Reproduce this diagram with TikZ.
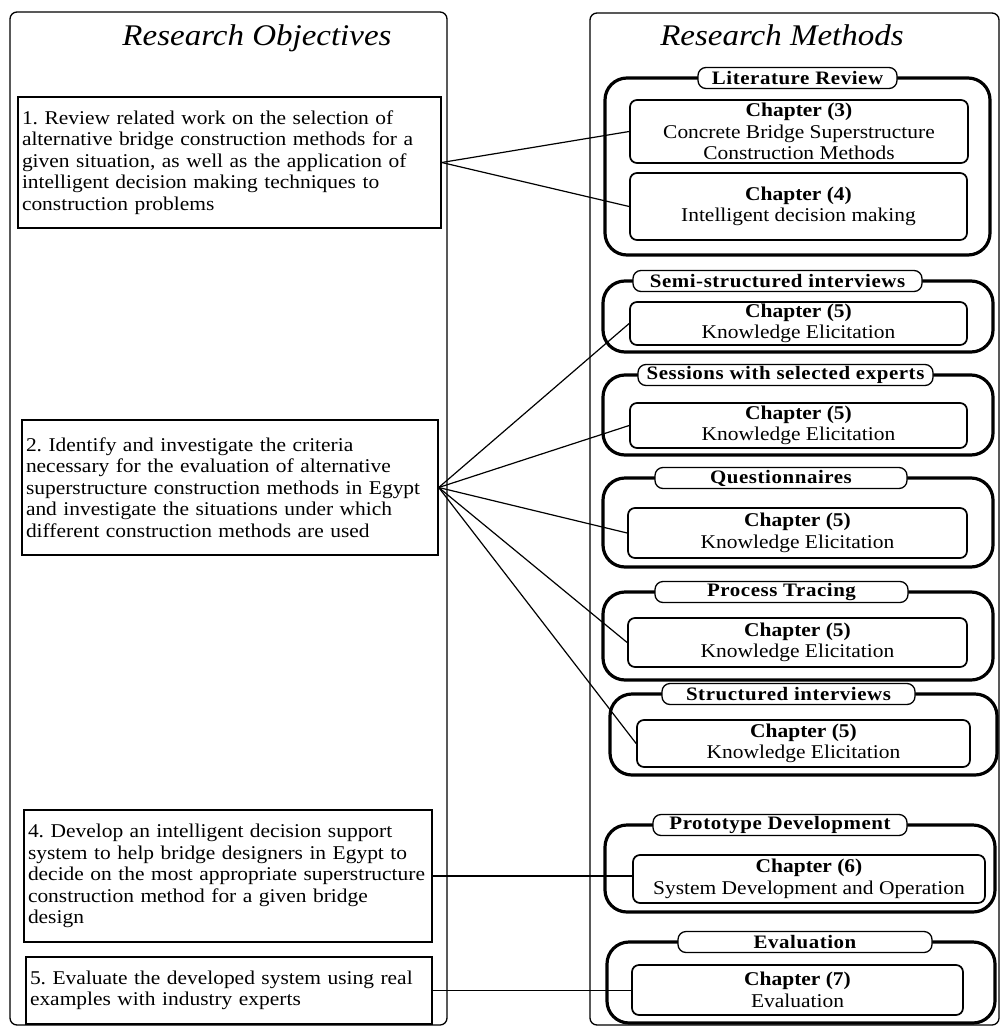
\documentclass[tikz,border=0pt]{standalone}
\usepackage{fontspec}
\setmainfont{Liberation Serif}[FakeStretch=1.1]
\newfontfamily\lblfont{Liberation Serif}[FakeStretch=1.1,LetterSpace=3]
\frenchspacing
\begin{document}
\begin{tikzpicture}[x=1pt,y=-1pt,
  sz/.style 2 args={minimum width=#1pt, minimum height=#2pt},
  panel/.style={draw, line width=1.3pt, rounded corners=7pt, inner sep=0pt},
  ttl/.style={font=\itshape\fontsize{30}{32}\selectfont, inner sep=0pt, anchor=base},
  obj/.style={draw, line width=1.4pt, align=left, inner sep=4pt, font=\fontsize{19.5}{21.5}\selectfont},
  grp/.style={draw, line width=3.2pt, rounded corners=22pt, inner sep=0pt},
  lbl/.style={draw, fill=white, line width=1.3pt, rounded corners=8pt, inner sep=0pt, font=\lblfont\bfseries\fontsize{19}{20}\selectfont},
  chap/.style={draw, fill=white, line width=1.7pt, rounded corners=7pt, inner sep=0pt, align=center, font=\fontsize{19.5}{21.5}\selectfont},
  conn/.style={line width=1.2pt}]
\useasboundingbox (0,0) rectangle (1002,1028);
% panels
\node[panel, sz={437}{1013}] (lp) at (228.5,518.5) {};
\node[panel, sz={409}{1012}] (rp) at (794.5,519) {};
\node[ttl] (t1) at (257,45) {Research Objectives};
\node[ttl] (t2) at (782,45) {Research Methods};
% objectives
\node[obj, sz={423}{131}, text width=415pt] (o1) at (229.5,162.5) {1. Review related work on the selection of\\alternative bridge construction methods for a\\given situation, as well as the application of\\intelligent decision making techniques to\\construction problems};
\node[obj, sz={416}{135}, text width=408pt] (o2) at (230,487.5) {2. Identify and investigate the criteria\\necessary for the evaluation of alternative\\superstructure construction methods in Egypt\\and investigate the situations under which\\different construction methods are used};
\node[obj, sz={408}{132}, text width=400pt] (o4) at (228,876) {4. Develop an intelligent decision support\\system to help bridge designers in Egypt to\\decide on the most appropriate superstructure\\construction method for a given bridge\\design};
\node[obj, sz={406}{67}, text width=398pt] (o5) at (229,990.5) {5. Evaluate the developed system using real\\examples with industry experts};
% groups
\node[grp, sz={385}{177}] (g1) at (797.5,166.5) {};
\node[grp, sz={390}{71}] (g2) at (798,316.5) {};
\node[grp, sz={390}{80}] (g3) at (798,415) {};
\node[grp, sz={390}{89}] (g4) at (798,522.5) {};
\node[grp, sz={390}{88}] (g5) at (798,636) {};
\node[grp, sz={387}{81}] (g6) at (803.5,734.5) {};
\node[grp, sz={390}{87}] (g7) at (800,868.5) {};
\node[grp, sz={388}{81}] (g8) at (801,982.5) {};
% labels
\node[lbl, sz={199}{21}] (l1) at (797.5,78) {Literature Review};
\node[lbl, sz={289}{21}] (l2) at (777.5,281) {Semi-structured interviews};
\node[lbl, sz={295}{21}] (l3) at (785.5,375) {Sessions with selected experts};
\node[lbl, sz={252}{21}] (l4) at (781,478) {Questionnaires};
\node[lbl, sz={253}{21}] (l5) at (781.5,592) {Process Tracing};
\node[lbl, sz={253}{21}] (l6) at (788.5,694) {Structured interviews};
\node[lbl, sz={254}{21}] (l7) at (780,825) {Prototype Development};
\node[lbl, sz={254}{21}] (l8) at (805,942) {Evaluation};
% chapters
\node[chap, sz={338}{63}] (c3) at (799,131.5) {\textbf{Chapter (3)}\\Concrete Bridge Superstructure\\Construction Methods};
\node[chap, sz={337}{67}] (c4) at (798.5,206.5) {\textbf{Chapter (4)}\\Intelligent decision making};
\node[chap, sz={337}{43}] (c5a) at (798.5,323.5) {\textbf{Chapter (5)}\\Knowledge Elicitation};
\node[chap, sz={337}{45}] (c5b) at (798.5,425.5) {\textbf{Chapter (5)}\\Knowledge Elicitation};
\node[chap, sz={339}{50}] (c5c) at (797.5,533) {\textbf{Chapter (5)}\\Knowledge Elicitation};
\node[chap, sz={339}{49}] (c5d) at (797.5,642.5) {\textbf{Chapter (5)}\\Knowledge Elicitation};
\node[chap, sz={333}{47}] (c5e) at (803.5,743.5) {\textbf{Chapter (5)}\\Knowledge Elicitation};
\node[chap, sz={352}{48}] (c6) at (809,879) {\textbf{Chapter (6)}\\System Development and Operation};
\node[chap, sz={331}{50}] (c7) at (797.5,990) {\textbf{Chapter (7)}\\Evaluation};
% connectors
\draw[conn] (o1.east) -- (c3.west);
\draw[conn] (o1.east) -- (c4.west);
\draw[conn] (o2.east) -- (c5a.west);
\draw[conn] (o2.east) -- (c5b.west);
\draw[conn] (o2.east) -- (c5c.west);
\draw[conn] (o2.east) -- (c5d.west);
\draw[conn] (o2.east) -- (c5e.west);
\draw[conn] (o4.east) -- (o4.east -| c6.west);
\draw[conn] (o5.east) -- (o5.east -| c7.west);
\end{tikzpicture}
\end{document}
